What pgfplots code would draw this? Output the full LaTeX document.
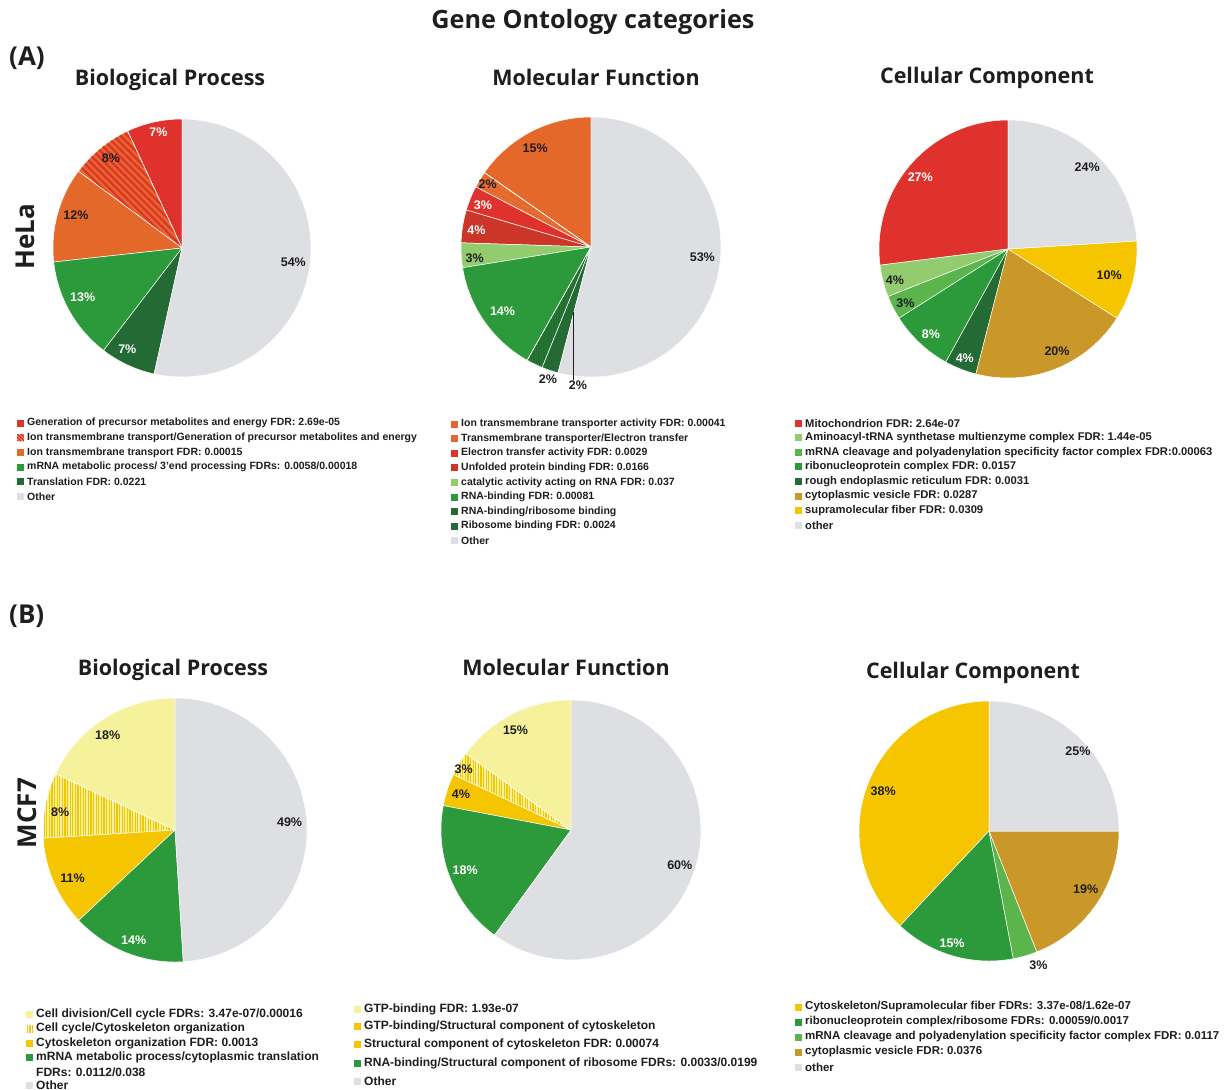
\documentclass[border=0pt]{standalone}
\usepackage{fontspec}
\usepackage{pgfplots}
\pgfplotsset{compat=1.18}
\usetikzlibrary{patterns.meta}
\setmainfont{Liberation Sans}
\newfontfamily\headfont{Open Sans}

\definecolor{cOther}{RGB}{222,223,227}
\definecolor{cRed}{RGB}{223,50,45}
\definecolor{cDRed}{RGB}{203,54,40}
\definecolor{cOrange}{RGB}{228,104,42}
\definecolor{cGreen}{RGB}{44,154,58}
\definecolor{cDGreen}{RGB}{36,106,52}
\definecolor{cLGreen}{RGB}{146,204,110}
\definecolor{cMGreen}{RGB}{92,180,76}
\definecolor{cGold}{RGB}{202,152,40}
\definecolor{cYellow}{RGB}{245,197,0}
\definecolor{cLYellow}{RGB}{245,242,155}
\definecolor{cText}{RGB}{30,30,30}

\def\legsize{10.5}
\pgfplotsset{
  pie/.style={hide axis, xmin=-1, xmax=1, ymin=-1, ymax=1, clip=false, anchor=center},
  pieslice/.style={draw=white, line width=0.5pt},
}
\tikzset{
  plab/.style={font=\bfseries\fontsize{12.5}{13}\selectfont, text=cText, inner sep=0pt},
  leg/.style={font=\bfseries\fontsize{\legsize}{12}\selectfont, text=cText, inner sep=0pt, anchor=west},
  head/.style={font=\headfont\bfseries\fontsize{21.5}{26}\selectfont, text=cText, inner sep=0pt},
}

% one pie slice: #1 percent, #2 fill style, #3 label radius, #4 label angle shift, #5 label style
\newcommand\slice[5]{%
  \pgfmathsetmacro\sfrom{\cum}%
  \pgfmathsetmacro\sto{\cum+#1}%
  \pgfmathsetmacro\aa{90+\sfrom/\tot*360}%
  \pgfmathsetmacro\ab{90+\sto/\tot*360}%
  \pgfmathsetmacro\lab{(\aa+\ab)/2+#4}%
  \pgfmathsetmacro\lx{#3*cos(\lab)}%
  \pgfmathsetmacro\ly{#3*sin(\lab)}%
  \xdef\cum{\sto}%
  \edef\doslice{%
    \noexpand\addplot[data cs=polar, pieslice, \unexpanded{#2}, domain=\aa:\ab, samples=60]
      ({x},{1}) -- (axis cs:0,0) -- cycle;
    \noexpand\node[plab, \unexpanded{#5}] at (axis cs:\lx,\ly) {#1\noexpand\%};}%
  \doslice}

% legend entry: #1 x of square, #2 y centre, #3 square style, #4 text
\newcommand\legitem[4]{%
  \path[#3] (#1pt,{-#2pt+3.5pt}) rectangle ++(7pt,-7pt);
  \node[leg] at ({#1pt+10pt},-#2pt) {#4};}

\begin{document}
\begin{tikzpicture}
\fill[white] (0,0) rectangle (1232pt,-1090pt);
\path[use as bounding box] (0,0) rectangle (1232pt,-1090pt);

% headings
\node[head, font=\headfont\bfseries\fontsize{25.2}{30}\selectfont] at (593pt,-22pt) {Gene Ontology categories};
\node[head, font=\headfont\bfseries\fontsize{26}{30}\selectfont, anchor=west] at (9pt,-58pt) {(A)};
\node[head, font=\headfont\bfseries\fontsize{26}{30}\selectfont, anchor=west] at (9pt,-616pt) {(B)};
\node[head, font=\headfont\bfseries\fontsize{26}{30}\selectfont, rotate=90] at (25pt,-237pt) {HeLa};
\node[head, font=\headfont\bfseries\fontsize{26}{30}\selectfont, rotate=90] at (27pt,-813pt) {MCF7};
\node[head] at (170pt,-80pt) {Biological Process};
\node[head] at (596pt,-77pt) {Molecular Function};
\node[head] at (987pt,-78pt) {Cellular Component};
\node[head] at (173pt,-670pt) {Biological Process};
\node[head] at (566pt,-667pt) {Molecular Function};
\node[head] at (973pt,-673pt) {Cellular Component};

% HeLa, Biological Process
\def\tot{101}\def\cum{0}
\begin{axis}[pie, at={(182pt,-248pt)}, x=129pt, y=129pt]
\slice{7}{fill=cRed}{0.92}{-1}{text=white}
\slice{8}{fill=cOrange, postaction={pattern={Lines[angle=-45,distance=5pt,line width=2.2pt]}, pattern color=cRed}}{0.89}{-1}{}
\slice{12}{fill=cOrange}{0.86}{-2}{}
\slice{13}{fill=cGreen}{0.86}{-3}{text=white}
\slice{7}{fill=cDGreen}{0.89}{-3.5}{text=white}
\slice{54}{fill=cOther}{0.87}{-1}{}
\end{axis}

% HeLa, Molecular Function
\def\tot{98}\def\cum{0}
\begin{axis}[pie, at={(591pt,-247pt)}, x=130pt, y=130pt]
\slice{15}{fill=cOrange}{0.87}{2}{}
\slice{2}{fill=cOrange, postaction={pattern={Lines[angle=-30,distance=4pt,line width=0.4pt]}, pattern color=white!45!cOrange}}{0.93}{0}{}
\slice{3}{fill=cRed}{0.89}{1}{text=white}
\slice{4}{fill=cDRed}{0.89}{1}{text=white}
\slice{3}{fill=cLGreen}{0.9}{2}{}
\slice{14}{fill=cGreen}{0.84}{1}{text=white}
\slice{2}{fill=cDGreen, postaction={pattern={Lines[angle=90,distance=2.5pt,line width=0.8pt]}, pattern color=cGreen!80!black}}{1.07}{7.7}{}
\slice{2}{fill=cDGreen}{1.07}{13}{}
\slice{53}{fill=cOther}{0.86}{2}{}
\draw[cText, line width=0.8pt] (axis cs:-0.135,-0.5) -- (axis cs:-0.135,-1.02);
\end{axis}

% HeLa, Cellular Component
\def\tot{100}\def\cum{0}
\begin{axis}[pie, at={(1008pt,-249pt)}, x=129pt, y=129pt]
\slice{27}{fill=cRed}{0.88}{2}{text=white}
\slice{4}{fill=cLGreen}{0.91}{1}{}
\slice{3}{fill=cMGreen}{0.9}{1}{}
\slice{8}{fill=cGreen}{0.89}{1}{text=white}
\slice{4}{fill=cDGreen}{0.91}{0}{text=white}
\slice{20}{fill=cGold}{0.88}{4}{}
\slice{10}{fill=cYellow}{0.81}{0}{}
\slice{24}{fill=cOther}{0.88}{-1}{}
\end{axis}

% MCF7, Biological Process
\def\tot{100}\def\cum{0}
\begin{axis}[pie, at={(175pt,-830pt)}, x=132pt, y=132pt]
\slice{18}{fill=cLYellow}{0.88}{3}{}
\slice{8}{fill=cLYellow, postaction={pattern={Lines[angle=90,distance=2.6pt,line width=1.1pt]}, pattern color=cYellow}}{0.88}{2}{}
\slice{11}{fill=cYellow}{0.86}{2}{}
\slice{14}{fill=cGreen}{0.89}{1}{text=white}
\slice{49}{fill=cOther}{0.87}{2}{}
\end{axis}

% MCF7, Molecular Function
\def\tot{100}\def\cum{0}
\begin{axis}[pie, at={(571pt,-830pt)}, x=130pt, y=130pt]
\slice{15}{fill=cLYellow}{0.88}{2}{}
\slice{3}{fill=cLYellow, postaction={pattern={Lines[angle=90,distance=2.6pt,line width=1.1pt]}, pattern color=cYellow}}{0.95}{1}{}
\slice{4}{fill=cYellow}{0.89}{0}{}
\slice{18}{fill=cGreen}{0.87}{-1}{text=white}
\slice{60}{fill=cOther}{0.88}{0}{}
\end{axis}

% MCF7, Cellular Component
\def\tot{100}\def\cum{0}
\begin{axis}[pie, at={(989pt,-831pt)}, x=130pt, y=130pt]
\slice{38}{fill=cYellow}{0.87}{1}{}
\slice{15}{fill=cGreen}{0.91}{-2}{text=white}
\slice{3}{fill=cMGreen}{1.1}{4}{}
\slice{19}{fill=cGold}{0.87}{3}{}
\slice{25}{fill=cOther}{0.92}{-3}{}
\end{axis}

% legends, HeLa
\def\legsize{10.5}
\legitem{17}{423}{fill=cRed}{Generation of precursor metabolites and energy FDR: 2.69e-05}
\legitem{17}{437.7}{fill=cRed, postaction={pattern={Lines[angle=-45,distance=2.5pt,line width=0.9pt]}, pattern color=cOrange!70!white}}{Ion transmembrane transport/Generation of precursor metabolites and energy}
\legitem{17}{452.4}{fill=cOrange}{Ion transmembrane transport FDR: 0.00015}
\legitem{17}{467.1}{fill=cGreen}{mRNA metabolic process/ 3'end processing FDRs: 0.0058/0.00018}
\legitem{17}{481.8}{fill=cDGreen}{Translation FDR: 0.0221}
\legitem{17}{496.5}{fill=cOther}{Other}

\legitem{451}{424}{fill=cOrange}{Ion transmembrane transporter activity FDR: 0.00041}
\legitem{451}{438.6}{fill=cOrange}{Transmembrane transporter/Electron transfer}
\legitem{451}{453.2}{fill=cRed}{Electron transfer activity FDR: 0.0029}
\legitem{451}{467.8}{fill=cDRed}{Unfolded protein binding FDR: 0.0166}
\legitem{451}{482.4}{fill=cLGreen}{catalytic activity acting on RNA FDR: 0.037}
\legitem{451}{497}{fill=cGreen}{RNA-binding FDR: 0.00081}
\legitem{451}{511.6}{fill=cDGreen}{RNA-binding/ribosome binding}
\legitem{451}{526.2}{fill=cDGreen}{Ribosome binding FDR: 0.0024}
\legitem{451}{540.8}{fill=cOther}{Other}

\def\legsize{11.2}
\legitem{795}{423}{fill=cRed}{Mitochondrion FDR: 2.64e-07}
\legitem{795}{437.6}{fill=cLGreen}{Aminoacyl-tRNA synthetase multienzyme complex FDR: 1.44e-05}
\legitem{795}{452.2}{fill=cMGreen}{mRNA cleavage and polyadenylation specificity factor complex FDR:0.00063}
\legitem{795}{466.8}{fill=cGreen}{ribonucleoprotein complex FDR: 0.0157}
\legitem{795}{481.4}{fill=cDGreen}{rough endoplasmic reticulum FDR: 0.0031}
\legitem{795}{496}{fill=cGold}{cytoplasmic vesicle FDR: 0.0287}
\legitem{795}{510.6}{fill=cYellow}{supramolecular fiber FDR: 0.0309}
\legitem{795}{525.2}{fill=cOther}{other}

% legends, MCF7
\def\legsize{12}
\legitem{26}{1014}{fill=cLYellow}{Cell division/Cell cycle FDRs: 3.47e-07/0.00016}
\legitem{26}{1028.5}{fill=white, postaction={pattern={Lines[angle=90,distance=2.5pt,line width=1.1pt]}, pattern color=cYellow}}{Cell cycle/Cytoskeleton organization}
\legitem{26}{1043}{fill=cYellow}{Cytoskeleton organization FDR: 0.0013}
\legitem{26}{1057.5}{fill=cGreen}{mRNA metabolic process/cytoplasmic translation}
\node[leg] at (36pt,-1072pt) {FDRs: 0.0112/0.038};
\legitem{26}{1085.5}{fill=cOther}{Other}

\legitem{354}{1009}{fill=cLYellow}{GTP-binding FDR: 1.93e-07}
\legitem{354}{1026.5}{fill=cYellow}{GTP-binding/Structural component of cytoskeleton}
\legitem{354}{1044.5}{fill=cYellow}{Structural component of cytoskeleton FDR: 0.00074}
\legitem{354}{1063}{fill=cGreen}{RNA-binding/Structural component of ribosome FDRs: 0.0033/0.0199}
\legitem{354}{1081}{fill=cOther}{Other}

\def\legsize{11.5}
\legitem{795}{1007}{fill=cYellow}{Cytoskeleton/Supramolecular fiber FDRs: 3.37e-08/1.62e-07}
\legitem{795}{1022}{fill=cGreen}{ribonucleoprotein complex/ribosome FDRs: 0.00059/0.0017}
\legitem{795}{1037}{fill=cMGreen}{mRNA cleavage and polyadenylation specificity factor complex FDR: 0.0117}
\legitem{795}{1052}{fill=cGold}{cytoplasmic vesicle FDR: 0.0376}
\legitem{795}{1067}{fill=cOther}{other}
\end{tikzpicture}
\end{document}
